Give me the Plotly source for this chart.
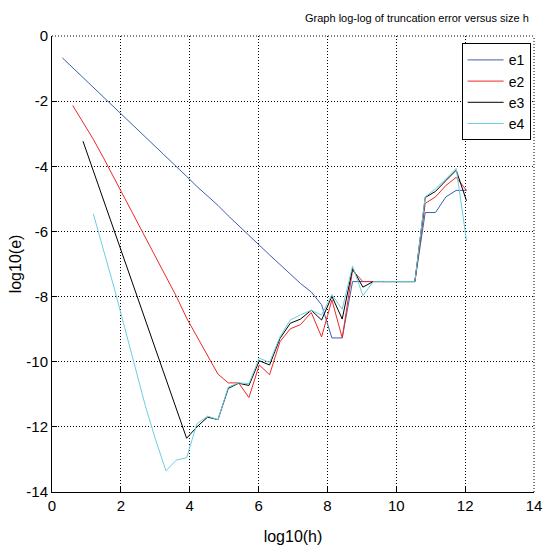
import plotly.graph_objects as go

# log10(h) sample positions (step ~ log10(2))
log_h = [0.30, 0.60, 0.90, 1.20, 1.51, 1.81, 2.11, 2.41, 2.71, 3.01,
         3.31, 3.61, 3.91, 4.21, 4.52, 4.82, 5.12, 5.42, 5.72, 6.02,
         6.32, 6.62, 6.92, 7.22, 7.53, 7.83, 8.13, 8.43, 8.73, 9.03,
         9.33, 9.63, 9.93, 10.24, 10.54, 10.84, 11.14, 11.44, 11.74, 12.04]

e1 = [-0.67, -0.97, -1.28, -1.58, -1.89, -2.20, -2.48, -2.79, -3.10, -3.38,
      -3.70, -4.00, -4.31, -4.62, -4.90, -5.20, -5.52, -5.83, -6.12, -6.42,
      -6.72, -7.02, -7.30, -7.60, -7.86, -8.25, -9.27, -9.27, -7.54, -7.54,
      -7.54, -7.54, -7.54, -7.54, -7.54, -5.42, -5.42, -4.94, -4.74, -4.74]

e2 = [-2.13, -2.65, -3.17, -3.77, -4.37, -4.97, -5.57, -6.17, -6.77, -7.37,
      -7.99, -8.66, -9.24, -9.82, -10.38, -10.65, -10.65, -11.10, -10.10, -10.40,
      -9.39, -8.99, -8.86, -8.49, -9.24, -8.10, -9.27, -7.19, -7.54, -7.54,
      -7.54, -7.54, -7.54, -7.54, -5.14, -4.94, -4.59, -4.34, -4.74]

e3 = [-3.23, -4.14, -5.05, -5.96, -6.87, -7.78, -8.69, -9.60, -10.51, -11.42,
      -12.35, -12.00, -11.70, -11.78, -10.82, -10.66, -10.73, -9.97, -10.10, -9.29,
      -8.82, -8.69, -8.42, -8.72, -7.99, -8.69, -7.14, -7.71, -7.54, -7.54,
      -7.54, -7.54, -7.54, -4.96, -4.77, -4.44, -4.12, -5.06]

e4 = [-5.46, -6.60, -7.75, -8.95, -10.15, -11.35, -12.40, -13.35, -13.02, -12.95,
      -11.90, -11.67, -11.78, -10.78, -10.65, -10.67, -9.89, -10.02, -9.24, -8.72,
      -8.56, -8.42, -8.57, -7.94, -8.39, -7.06, -7.97, -7.54, -7.54, -7.54,
      -7.54, -7.54, -4.94, -4.69, -4.39, -4.06, -6.29]

series = [("e1", e1, "#3f5fb0"), ("e2", e2, "#f02828"),
          ("e3", e3, "#000000"), ("e4", e4, "#6ccfe0")]

x_ticks = [0, 2, 4, 6, 8, 10, 12, 14]
y_ticks = [0, -2, -4, -6, -8, -10, -12, -14]

fig = go.Figure()
for name, vals, col in series:
    xs = log_h[len(log_h) - len(vals):]
    fig.add_trace(go.Scatter(x=xs, y=vals, mode="lines", name=name,
                             line=dict(color=col, width=1)))

font = "Liberation Sans, Arial, sans-serif"
dots = "1px,2px"
axis_common = dict(showgrid=True, gridcolor="black", gridwidth=1, griddash=dots,
                   zeroline=False, showline=True, linecolor="black", linewidth=1,
                   ticks="inside", ticklen=5, tickcolor="black",
                   ticklabeloverflow="allow",
                   tickfont=dict(family=font, size=15, color="black"), mirror=False)

fig.update_xaxes(range=[0, 14], tickvals=x_ticks, ticktext=[str(v) for v in x_ticks],
                 title=dict(text="log10(h)", font=dict(family=font, size=16, color="black"),
                            standoff=17), **axis_common)
fig.update_yaxes(range=[-14, 0], tickvals=y_ticks, ticktext=[str(v) for v in y_ticks],
                 title=dict(text="log10(e)", font=dict(family=font, size=16, color="black"),
                            standoff=0), **axis_common)

# dotted top and right borders (as in the reference)
fig.add_shape(type="line", xref="paper", yref="paper", x0=0, x1=1, y0=1, y1=1,
              line=dict(color="black", width=1, dash=dots))
fig.add_shape(type="line", xref="paper", yref="paper", x0=1, x1=1, y0=0, y1=1,
              line=dict(color="black", width=1, dash=dots))

fig.update_layout(
    width=550, height=550,
    margin=dict(l=52, r=8, t=36, b=48),
    paper_bgcolor="white", plot_bgcolor="white",
    showlegend=True,
    legend=dict(x=0.993, y=0.984, xanchor="right", yanchor="top",
                bgcolor="white", bordercolor="black", borderwidth=1,
                font=dict(family=font, size=14, color="black"),
                itemwidth=36, tracegroupgap=0),
    annotations=[dict(text="Graph log-log of truncation error versus size h",
                      xref="paper", yref="paper", x=0.757, y=1.0, yshift=18,
                      xanchor="center", yanchor="middle", showarrow=False,
                      font=dict(family=font, size=11, color="black"))],
)

fig.write_html("out.html")
